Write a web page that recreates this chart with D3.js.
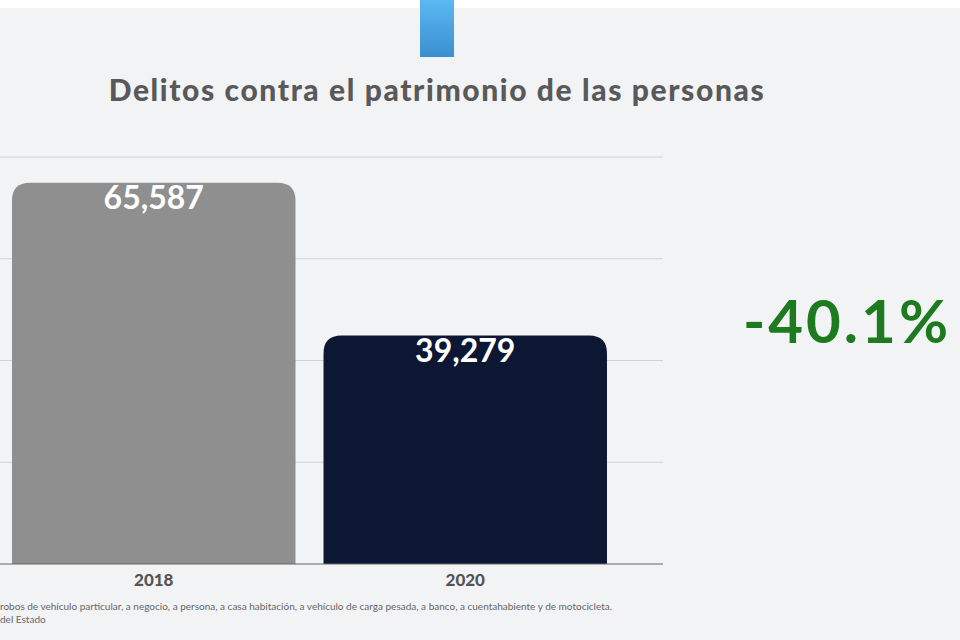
<!DOCTYPE html><html><head><meta charset="utf-8"><script src="https://d3js.org/d3.v7.min.js"></script>
<style>body{margin:0;background:#f2f3f5}svg{display:block}</style></head><body><script>
const categories=["2018","2020"];
const values=[65587,39279];
const valueLabels=["65,587","39,279"];
const gridTicks=[0,17500,35000,52500,70000];
const changeLabel="-40.1%";
const title="Delitos contra el patrimonio de las personas";
const notes=["robos de vehículo particular, a negocio, a persona, a casa habitación, a vehículo de carga pesada, a banco, a cuentahabiente y de motocicleta.","del Estado"];

const W=960,H=640,F="Lato, 'Open Sans', sans-serif";
const svg=d3.select("body").append("svg").attr("width",W).attr("height",H);
svg.append("rect").attr("width",W).attr("height",H).attr("fill","#f2f3f5");
svg.append("rect").attr("width",W).attr("height",8).attr("fill","#fff");
const g=svg.append("defs").append("linearGradient").attr("id","bl").attr("x1",0).attr("x2",0).attr("y1",0).attr("y2",1);
g.append("stop").attr("offset",0).attr("stop-color","#5bb8f2");g.append("stop").attr("offset",1).attr("stop-color","#3a8fd0");
svg.append("rect").attr("x",420).attr("y",0).attr("width",34).attr("height",57).attr("fill","url(#bl)");
svg.append("text").attr("x",437).attr("y",101).attr("text-anchor","middle").attr("font-family",F).attr("font-weight",900).attr("font-size",30).attr("fill","#595959").attr("letter-spacing",1.6).text(title);
const y=d3.scaleLinear().domain([0,70000]).range([564,157]);
const x=d3.scaleBand().domain(categories).range([-2,621]).paddingInner(0.09).paddingOuter(0.045);
svg.selectAll(".gl").data(gridTicks.slice(1)).join("line").attr("x1",0).attr("x2",663).attr("y1",d=>y(d)).attr("y2",d=>y(d)).attr("stroke","#cfd2d6");
const r=18,cols=["#8f8f8f","#0c1833"];
categories.forEach((c,i)=>{const x0=x(c),w=x.bandwidth(),t=y(values[i]),b=y(0);
svg.append("path").attr("d",`M${x0},${b}V${t+r}Q${x0},${t} ${x0+r},${t}H${x0+w-r}Q${x0+w},${t} ${x0+w},${t+r}V${b}Z`).attr("fill",cols[i]);
svg.append("text").attr("x",x0+w/2).attr("y",t+26).attr("text-anchor","middle").attr("font-family",F).attr("font-weight",700).attr("font-size",32).attr("fill","#fff").text(valueLabels[i]);
svg.append("text").attr("x",x0+w/2).attr("y",586).attr("text-anchor","middle").attr("font-family",F).attr("font-weight",900).attr("font-size",17).attr("fill","#555").text(c);});
svg.append("line").attr("x1",0).attr("x2",663).attr("y1",564).attr("y2",564).attr("stroke","#666");
svg.append("text").attr("x",847).attr("y",343).attr("text-anchor","middle").attr("font-family",F).attr("font-weight",700).attr("font-size",60).attr("fill","#1e7a1e").attr("letter-spacing",3).text(changeLabel);
notes.forEach((n,i)=>svg.append("text").attr("x",0).attr("y",610+i*13).attr("font-family",F).attr("font-size",10).attr("fill","#666").text(n));
</script></body></html>
